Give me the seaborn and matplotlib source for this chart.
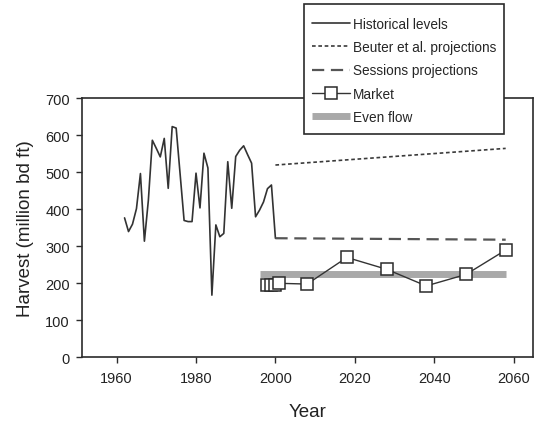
import numpy as np
import pandas as pd
import matplotlib
matplotlib.use("Agg")
import matplotlib.pyplot as plt
from matplotlib.patches import Rectangle
import seaborn as sns

# ---- data ----
hist_years = list(range(1962, 2001))
hist_vals = [377, 340, 360, 402, 497, 314, 425, 587, 565, 542,
             592, 457, 624, 620, 495, 370, 367, 367, 498, 404,
             552, 512, 168, 358, 326, 335, 529, 403, 543, 560,
             572, 548, 525, 380, 398, 420, 456, 466, 322]

beuter_years = [2000, 2058]
beuter_vals = [520, 565]

sessions_years = [2000, 2058]
sessions_vals = [322, 318]

market_years = [1998, 1999, 2000, 2001, 2008, 2018, 2028, 2038, 2048, 2058]
market_vals = [195, 195, 195, 200, 198, 270, 238, 193, 224, 290]

even_years = [1996, 2058]
even_vals = [224, 224]

x_ticks = [1960, 1980, 2000, 2020, 2040, 2060]
y_ticks = [0, 100, 200, 300, 400, 500, 600, 700]

sns.set_style("ticks")
plt.rcParams['font.family'] = ['Liberation Sans', 'DejaVu Sans']

W, H = 539, 427
fig = plt.figure(figsize=(W / 100, H / 100), dpi=100)
ax = fig.add_axes([0.153, 0.161, 0.836, 0.606])

dark = "#2b2b2b"

sns.lineplot(x=even_years, y=even_vals, ax=ax, color="#a9a9a9", lw=5.0,
             solid_capstyle="butt", label="Even flow", zorder=1)
sns.lineplot(x=hist_years, y=hist_vals, ax=ax, color="#333333", lw=1.2,
             label="Historical levels", zorder=2)
sns.lineplot(x=beuter_years, y=beuter_vals, ax=ax, color="#3a3a3a", lw=1.2,
             label="Beuter et al. projections", zorder=2)
sns.lineplot(x=sessions_years, y=sessions_vals, ax=ax, color="#555555", lw=1.6,
             label="Sessions projections", zorder=2)
sns.lineplot(x=market_years, y=market_vals, ax=ax, color="#333333", lw=1.0,
             marker="s", markersize=8.6, markerfacecolor="white",
             markeredgecolor="#2b2b2b", markeredgewidth=1.1,
             label="Market", zorder=3)

lines = ax.get_lines()
lines[2].set_dashes([2.2, 1.6])
lines[3].set_dashes([5.5, 3.0])

ax.set_xlim(1951.4, 2064.9)
ax.set_ylim(0, 700)
ax.set_xticks(x_ticks)
ax.set_yticks(y_ticks)
ax.tick_params(axis="both", labelsize=10.5, length=4, width=1.0,
               color=dark, labelcolor="#222222", direction="out")
ax.tick_params(axis="x", pad=6)
ax.tick_params(axis="y", pad=5)
for s in ax.spines.values():
    s.set_visible(True)
    s.set_color(dark)
    s.set_linewidth(1.2)

ax.set_xlabel("Year", fontsize=13.5, color="#222222", labelpad=13)
ax.set_ylabel("Harvest (million bd ft)", fontsize=13.5, color="#222222", labelpad=8)

handles, labels = ax.get_legend_handles_labels()
ax.get_legend().remove() if ax.get_legend() is not None else None
order = ["Historical levels", "Beuter et al. projections",
         "Sessions projections", "Market", "Even flow"]
hmap = dict(zip(labels, handles))

# legend frame box drawn in figure pixels
box = Rectangle((304 / W, 1 - 135 / H), 200 / W, 130 / H,
                transform=fig.transFigure, facecolor="white",
                edgecolor=dark, linewidth=1.2, zorder=4)
fig.patches.append(box)

leg = fig.legend([hmap[k] for k in order], order,
                 loc="upper left", bbox_to_anchor=(305 / W, 1 - 11 / H),
                 bbox_transform=fig.transFigure,
                 prop={"family": ["Liberation Sans"], "size": 9.8},
                 frameon=False,
                 handlelength=2.8, handletextpad=0.2, labelspacing=0.68,
                 borderpad=0.5, borderaxespad=0)
leg.set_zorder(5)

fig.savefig("out.png", dpi=100)
